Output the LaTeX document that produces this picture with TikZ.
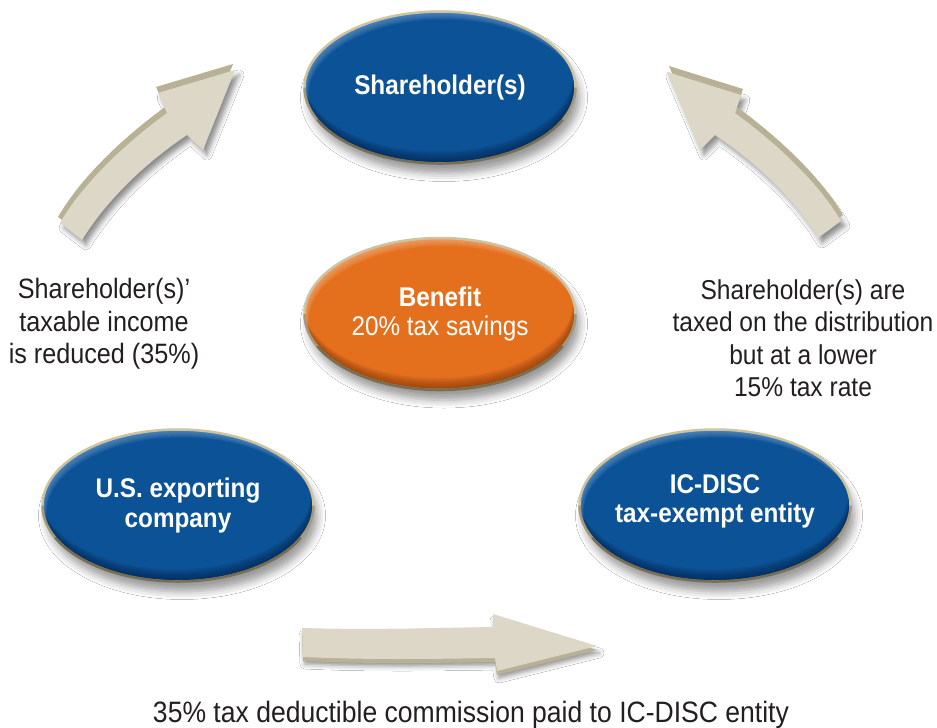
\documentclass[tikz,border=0pt]{standalone}
\usepackage{fontspec}
\setmainfont{Liberation Sans}[FakeStretch=0.9]
\usetikzlibrary{shapes.geometric,shadows.blur}

\definecolor{ballblue}{RGB}{12,82,150}
\definecolor{bluehi}{RGB}{120,165,210}
\definecolor{bluelo}{RGB}{2,30,68}
\definecolor{ballorange}{RGB}{228,112,30}
\definecolor{orangehi}{RGB}{248,185,140}
\definecolor{orangelo}{RGB}{120,50,8}
\definecolor{rimlight}{RGB}{205,195,160}
\definecolor{rimdark}{RGB}{85,76,52}
\definecolor{arrowface}{RGB}{221,215,199}
\definecolor{arrowside}{RGB}{184,177,150}
\definecolor{ink}{RGB}{35,31,32}

% soft light rim at the top left and dark rim at the bottom of a ball
\newcommand\ballsheen[2]{%
  \foreach \s in {1,...,8}{%
    \fill[#1, opacity=0.11, even odd rule]
      (path picture bounding box.south west) rectangle (path picture bounding box.north east)
      ([xshift=\s*0.5pt, yshift=-\s*1pt]path picture bounding box.center)
        ellipse [x radius=135.5pt, y radius=76pt];
    \fill[#2, opacity=0.11, even odd rule]
      (path picture bounding box.south west) rectangle (path picture bounding box.north east)
      ([xshift=-\s*0.3pt, yshift=\s*1.5pt]path picture bounding box.center)
        ellipse [x radius=135.5pt, y radius=76pt];
  }%
}

\tikzset{
  ball/.style={ellipse, minimum width=271pt, minimum height=152pt, inner sep=0pt,
    draw=rimlight, line width=2.5pt,
    blur shadow={shadow xshift=4pt, shadow yshift=-10pt, shadow blur radius=8pt, shadow opacity=40}},
  blueball/.style={ball, fill=ballblue, path picture={\ballsheen{bluehi}{bluelo}}},
  orangeball/.style={ball, fill=ballorange, path picture={\ballsheen{orangehi}{orangelo}}},
  balltext/.style={text=white, font=\fontsize{27}{29.5}\selectfont, align=center, inner sep=0pt},
  note/.style={text=ink, font=\fontsize{28}{32.5}\selectfont, align=center, inner sep=0pt},
  rimshade/.style={rimdark, line width=2.5pt},
  arrowshadow/.style={blur shadow={shadow xshift=4pt, shadow yshift=-5pt, shadow blur radius=5pt, shadow opacity=45}},
  leftarrowpath/.style={insert path={(82,240) .. controls (110,195) and (150,160) .. (187,135)
      -- (203,150) -- (235,70) -- (158,93) -- (167,113)
      .. controls (130,140) and (85,180) .. (60,223) -- cycle}},
  rightarrowpath/.style={insert path={(818,238) .. controls (792,195) and (752,160) .. (715,135)
      -- (700,150) -- (667,72) -- (741,95) -- (735,113)
      .. controls (772,140) and (817,180) .. (841,221) -- cycle}},
  bottomarrowpath/.style={insert path={(302,628) .. controls (370,630) and (430,628) .. (493,627)
      -- (493,614) -- (597,646) -- (497,671) -- (495,658)
      .. controls (430,659) and (370,660) .. (303,657) -- cycle}},
}

% darker lower rim of a ball
\newcommand\lowerrim[1]{%
  \draw[rimshade, opacity=0.35] ([shift={(180:135.5pt and 76pt)}]#1.center)
    arc[start angle=180, end angle=360, x radius=135.5pt, y radius=76pt];
  \draw[rimshade, opacity=0.55] ([shift={(205:135.5pt and 76pt)}]#1.center)
    arc[start angle=205, end angle=335, x radius=135.5pt, y radius=76pt];
}

\begin{document}
\begin{tikzpicture}[x=1pt, y=-1pt]
  \fill[white] (0,0) rectangle (937,728);
  \useasboundingbox (0,0) rectangle (937,728);

  % block arrows: shadow, extruded side, front face
  \path[arrowshadow, leftarrowpath];
  \fill[arrowside, shift={(-2,-6)}, leftarrowpath];
  \fill[arrowface, leftarrowpath];

  \path[arrowshadow, rightarrowpath];
  \fill[arrowside, shift={(2,-6)}, rightarrowpath];
  \fill[arrowface, rightarrowpath];

  \path[blur shadow={shadow xshift=2pt, shadow yshift=-7pt, shadow blur radius=5pt, shadow opacity=45}, bottomarrowpath];
  \fill[arrowside, shift={(0,4)}, bottomarrowpath];
  \fill[arrowface, bottomarrowpath];

  % balls
  \node[blueball] (share) at (440,87.5) {};
  \node[orangeball] (benefit) at (440,314) {};
  \node[blueball] (export) at (178,505.5) {};
  \node[blueball] (disc) at (715,505.5) {};
  \lowerrim{share}
  \lowerrim{benefit}
  \lowerrim{export}
  \lowerrim{disc}

  \node[balltext] (share-t) at (share) {\bfseries Shareholder(s)};
  \node[balltext] (benefit-t) at (benefit) {\bfseries Benefit\\20\% tax savings};
  \node[balltext] (export-t) at (export) {\bfseries U.S. exporting\\\bfseries company};
  \node[balltext] (disc-t) at ([yshift=4pt]disc.center) {\bfseries IC-DISC\\\bfseries tax-exempt entity};

  % captions
  \node[note] (left-note) at (104,324) {Shareholder(s)’\\taxable income\\is reduced (35\%)};
  \node[note, font=\fontsize{27.3}{32.5}\selectfont] (right-note) at (803,338) {Shareholder(s) are\\taxed on the distribution\\but at a lower\\15\% tax rate};
  \node[note, font=\fontsize{29.5}{32.5}\selectfont] (bottom-note) at (471,714.5) {35\% tax deductible commission paid to IC-DISC entity};
\end{tikzpicture}
\end{document}
